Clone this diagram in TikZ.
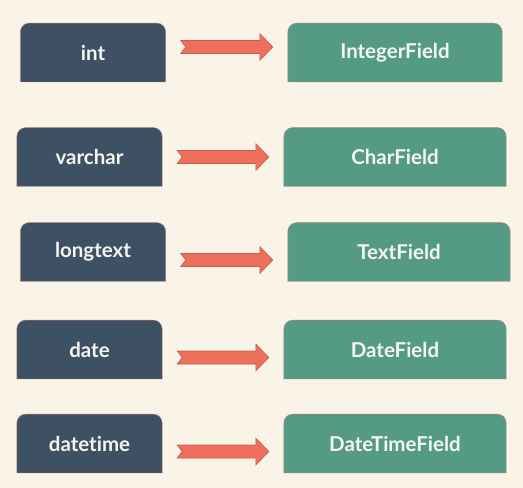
\documentclass[tikz,border=0pt]{standalone}
\usepackage{fontspec}
\setmainfont{Lato}[Ligatures={NoCommon}]
\usetikzlibrary{backgrounds}
\definecolor{pagecream}{HTML}{FAF4E8}
\definecolor{slatebox}{HTML}{3E5063}
\definecolor{tealbox}{HTML}{559A85}
\definecolor{boxedge}{HTML}{B8806E}
\definecolor{arrowfill}{HTML}{EE6F5B}
\definecolor{arrowedge}{HTML}{C45F4C}
\definecolor{labeltext}{HTML}{F4F7F0}
\tikzset{
  sqlbox/.style={text=labeltext, font=\bfseries\fontsize{20.5}{24}\selectfont,
    minimum width=145pt, minimum height=58.5pt, inner sep=0pt},
  fieldbox/.style={sqlbox, minimum width=222pt},
  fatarrow/.style={draw=arrowedge, fill=arrowfill, line width=0.6pt, to path={
    ([xshift=15pt,yshift=#1+6.5pt]\tikztostart) -- ([xshift=-28pt,yshift=#1+6.5pt]\tikztotarget)
    -- ([xshift=-28pt,yshift=#1+13.5pt]\tikztotarget) -- ([xshift=-15pt,yshift=#1]\tikztotarget)
    -- ([xshift=-28pt,yshift=#1-13.5pt]\tikztotarget) -- ([xshift=-28pt,yshift=#1-6.5pt]\tikztotarget)
    -- ([xshift=15pt,yshift=#1-6.5pt]\tikztostart) -- ([xshift=20pt,yshift=#1]\tikztostart) -- cycle}},
  fatarrow/.default=0pt
}
\begin{document}
\begin{tikzpicture}[x=1pt, y=-1pt]
% column of mysql types
\node[sqlbox] (int) at (93,52.5) {int};
\node[sqlbox] (varchar) at (89.5,157) {varchar};
\node[sqlbox] (longtext) at (93,252) {longtext};
\node[sqlbox] (date) at (89.5,349.5) {date};
\node[sqlbox] (datetime) at (89.5,443.5) {datetime};
% column of django fields
\node[fieldbox, minimum width=214pt] (integer) at (395,52.5) {IntegerField};
\node[fieldbox] (charf) at (395,157) {CharField};
\node[fieldbox] (textf) at (399,252) {TextField};
\node[fieldbox] (datef) at (395,349.5) {DateField};
\node[fieldbox] (datetimef) at (395,443.5) {DateTimeField};
\begin{scope}[on background layer]
\fill[pagecream] (0,0) rectangle (523,488);
\foreach \n in {int,varchar,longtext,date,datetime}
  \draw[boxedge, fill=slatebox] (\n.south west) [rounded corners=9pt] -- (\n.north west) -- (\n.north east) [sharp corners] -- (\n.south east) -- cycle;
\foreach \n in {integer,charf,textf,datef,datetimef}
  \draw[boxedge, fill=tealbox] (\n.south west) [rounded corners=9pt] -- (\n.north west) -- (\n.north east) [sharp corners] -- (\n.south east) -- cycle;
\end{scope}
\draw[fatarrow=5.5pt] (int.east) to (integer.west);
\draw[fatarrow] (varchar.east) to (charf.west);
\draw[fatarrow=-8pt] (longtext.east) to (textf.west);
\draw[fatarrow=-8pt] (date.east) to (datef.west);
\draw[fatarrow=-8pt] (datetime.east) to (datetimef.west);
\end{tikzpicture}
\end{document}
